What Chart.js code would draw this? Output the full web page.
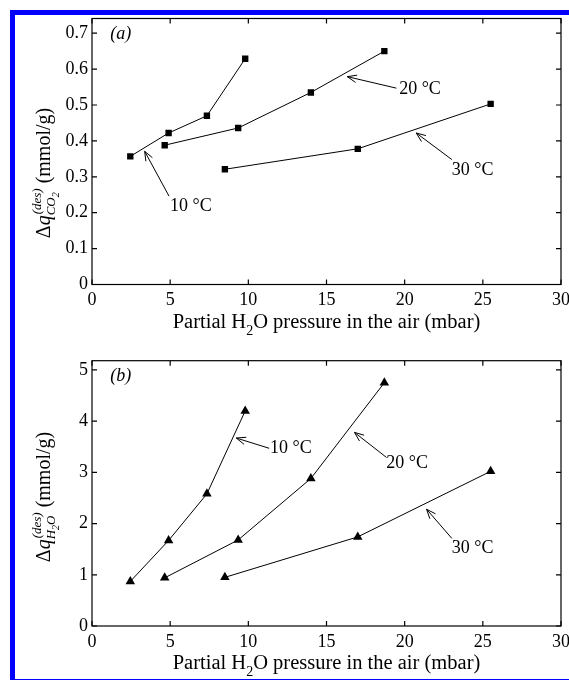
<!DOCTYPE html>
<html>
<head>
<meta charset="utf-8">
<script src="https://cdn.jsdelivr.net/npm/chart.js@4"></script>
<style>
  body { margin: 0; background: #fff; }
  #frame {
    position: absolute; left: 10px; top: 10px; width: 559px; height: 664px;
    border-left: 5px solid #0000ff; border-top: 5px solid #0000ff; border-bottom: 1px solid #0000ff;
    box-sizing: content-box;
  }
  canvas { position: absolute; left: 0; }
</style>
</head>
<body>
<div id="frame"></div>
<canvas id="chartA" width="569" height="340" style="top:0"></canvas>
<canvas id="chartB" width="569" height="340" style="top:340px"></canvas>
<script>
// --- data (a): CO2 desorbed ---
const xT10 = [2.45, 4.9, 7.35, 9.8];
const xT20 = [4.65, 9.35, 14.0, 18.7];
const xT30 = [8.5, 17.0, 25.5];
const co2T10 = [0.357, 0.422, 0.470, 0.629];
const co2T20 = [0.388, 0.436, 0.535, 0.650];
const co2T30 = [0.321, 0.378, 0.503];
// --- data (b): H2O desorbed ---
const h2oT10 = [0.87, 1.67, 2.58, 4.2];
const h2oT20 = [0.94, 1.68, 2.88, 4.75];
const h2oT30 = [0.95, 1.74, 3.02];

const xTicks = [0, 5, 10, 15, 20, 25, 30];
const yTicksA = [0, 0.1, 0.2, 0.3, 0.4, 0.5, 0.6, 0.7];
const yTicksB = [0, 1, 2, 3, 4, 5];

// arrow annotations, in data units: label centre, arrow tail, arrow head
const notesA = [
  { text: '10 °C', lx: 6.33, ly: 0.218, tx: 4.93, ty: 0.246, hx: 3.37, hy: 0.371 },
  { text: '20 °C', lx: 20.98, ly: 0.544, tx: 19.47, ty: 0.547, hx: 16.33, hy: 0.579 },
  { text: '30 °C', lx: 24.35, ly: 0.318, tx: 23.02, ty: 0.348, hx: 20.74, hy: 0.422 },
];
const notesB = [
  { text: '10 °C', lx: 12.72, ly: 3.47, tx: 11.33, ty: 3.47, hx: 9.23, hy: 3.67 },
  { text: '20 °C', lx: 20.16, ly: 3.18, tx: 18.84, ty: 3.29, hx: 16.79, hy: 3.78 },
  { text: '30 °C', lx: 24.35, ly: 1.52, tx: 23.02, ty: 1.71, hx: 21.4, hy: 2.28 },
];

const SERIF = '"Liberation Serif", "Times New Roman", serif';

function pts(xs, ys) {
  return xs.map((x, i) => ({ x: x, y: ys[i] }));
}

function series(xs, ys, style, r) {
  return {
    data: pts(xs, ys),
    showLine: true,
    borderColor: '#000',
    borderWidth: 1,
    backgroundColor: '#000',
    pointStyle: style,
    pointRadius: r,
    pointBorderWidth: 0,
    pointBackgroundColor: '#000',
  };
}

// draws a text run made of pieces with their own font and baseline shift
function drawRuns(ctx, runs, x, y, align) {
  let w = 0;
  runs.forEach((r) => {
    ctx.font = r.font;
    r.w = r.adv !== undefined ? r.adv : ctx.measureText(r.t).width;
    if (!r.stack) w += r.w;
  });
  let cx = align === 'center' ? x - w / 2 : x;
  runs.forEach((r) => {
    ctx.font = r.font;
    ctx.fillText(r.t, cx + (r.dx || 0), y + (r.dy || 0));
    if (!r.stack) cx += r.w;
  });
}

const matlabBox = {
  id: 'matlabBox',
  afterDraw(chart, args, o) {
    const { ctx, chartArea: a } = chart;
    const xs = chart.scales.x, ys = chart.scales.y;
    ctx.save();
    ctx.strokeStyle = '#000';
    ctx.fillStyle = '#000';
    ctx.lineWidth = 1.2;
    ctx.strokeRect(a.left, a.top, a.right - a.left, a.bottom - a.top);
    const tl = 5;
    ctx.beginPath();
    xTicks.forEach((v) => {
      const px = xs.getPixelForValue(v);
      ctx.moveTo(px, a.bottom); ctx.lineTo(px, a.bottom - tl);
      ctx.moveTo(px, a.top); ctx.lineTo(px, a.top + tl);
    });
    o.yTicks.forEach((v) => {
      const py = ys.getPixelForValue(v);
      ctx.moveTo(a.left, py); ctx.lineTo(a.left + tl, py);
      ctx.moveTo(a.right, py); ctx.lineTo(a.right - tl, py);
    });
    ctx.stroke();

    // arrows and labels
    ctx.lineWidth = 1;
    o.notes.forEach((n) => {
      const tx = xs.getPixelForValue(n.tx), ty = ys.getPixelForValue(n.ty);
      const hx = xs.getPixelForValue(n.hx), hy = ys.getPixelForValue(n.hy);
      const ang = Math.atan2(hy - ty, hx - tx);
      const L = 10, sp = 0.38;
      ctx.beginPath();
      ctx.moveTo(tx, ty); ctx.lineTo(hx, hy);
      ctx.moveTo(hx - L * Math.cos(ang - sp), hy - L * Math.sin(ang - sp));
      ctx.lineTo(hx, hy);
      ctx.lineTo(hx - L * Math.cos(ang + sp), hy - L * Math.sin(ang + sp));
      ctx.stroke();
      ctx.font = '18px ' + SERIF;
      ctx.textAlign = 'center';
      ctx.textBaseline = 'middle';
      ctx.fillText(n.text, xs.getPixelForValue(n.lx), ys.getPixelForValue(n.ly));
    });

    // panel letter
    ctx.font = 'italic 18px ' + SERIF;
    ctx.textAlign = 'center';
    ctx.textBaseline = 'middle';
    ctx.fillText(o.letter, xs.getPixelForValue(o.letterX), ys.getPixelForValue(o.letterY));

    // x axis title
    ctx.textAlign = 'left';
    ctx.textBaseline = 'alphabetic';
    const big = '20.5px ' + SERIF, small = '14px ' + SERIF;
    drawRuns(ctx, [
      { t: 'Partial H', font: big },
      { t: '2', font: small, dy: 7 },
      { t: 'O pressure in the air (mbar)', font: big },
    ], (a.left + a.right) / 2, a.bottom + 43, 'center');

    // y axis title, rotated
    ctx.translate(50, o.yTitleY);
    ctx.rotate(-Math.PI / 2);
    const yb = '20px ' + SERIF, it = 'italic 20px ' + SERIF;
    const sm = 'italic 13px ' + SERIF, tiny = 'italic 10px ' + SERIF;
    ctx.font = sm;
    const supW = ctx.measureText('(des)').width;
    const runs = [
      { t: 'Δ', font: yb },
      { t: 'q', font: it },
      { t: '(des)', font: sm, dy: -9, stack: true, dx: 1 },
      { t: o.sub1, font: sm, dy: 5 },
      { t: '2', font: tiny, dy: 9 },
      { t: o.sub3, font: sm, dy: 5 },
    ];
    ctx.font = sm;
    let subW = ctx.measureText(o.sub1 + o.sub3).width;
    ctx.font = tiny;
    subW += ctx.measureText('2').width;
    runs.push({ t: '', font: sm, adv: Math.max(0, supW - subW + 1) });
    runs.push({ t: ' (mmol/g)', font: yb });
    drawRuns(ctx, runs, 0, 0, 'center');
    ctx.restore();
  },
};

function makeChart(id, datasets, yMax, yTicks, pad, extra) {
  return new Chart(document.getElementById(id), {
    type: 'scatter',
    data: { datasets: datasets },
    plugins: [matlabBox],
    options: {
      responsive: false,
      animation: false,
      layout: { padding: pad },
      plugins: {
        legend: { display: false },
        tooltip: { enabled: false },
        matlabBox: Object.assign({ yTicks: yTicks }, extra),
      },
      scales: {
        x: {
          type: 'linear', min: 0, max: 30,
          afterBuildTicks: (s) => { s.ticks = xTicks.map((v) => ({ value: v })); },
          afterFit: (s) => { s.height = 50; s.paddingLeft = 0; s.paddingRight = 0; },
          grid: { display: false, drawTicks: false },
          border: { display: false },
          ticks: { color: '#000', padding: 5, font: { family: SERIF, size: 18 } },
        },
        y: {
          type: 'linear', min: 0, max: yMax,
          afterBuildTicks: (s) => { s.ticks = yTicks.map((v) => ({ value: v })); },
          afterFit: (s) => { s.width = 40; s.paddingTop = 0; s.paddingBottom = 0; },
          grid: { display: false, drawTicks: false },
          border: { display: false },
          ticks: { color: '#000', padding: 4, font: { family: SERIF, size: 18 } },
        },
      },
    },
  });
}

makeChart('chartA', [
  series(xT10, co2T10, 'rect', 4.5),
  series(xT20, co2T20, 'rect', 4.5),
  series(xT30, co2T30, 'rect', 4.5),
], 0.741, yTicksA, { left: 52, right: 8, top: 18.5, bottom: 5.5 },
{ notes: notesA, letter: '(a)', letterX: 1.84, letterY: 0.698, yTitleY: 173, sub1: 'CO', sub3: '' });

makeChart('chartB', [
  series(xT10, h2oT10, 'triangle', 5.5),
  series(xT20, h2oT20, 'triangle', 5.5),
  series(xT30, h2oT30, 'triangle', 5.5),
], 5.18, yTicksB, { left: 52, right: 8, top: 20.7, bottom: 4 },
{ notes: notesB, letter: '(b)', letterX: 1.84, letterY: 4.88, yTitleY: 157, sub1: 'H', sub3: 'O' });
</script>
</body>
</html>
